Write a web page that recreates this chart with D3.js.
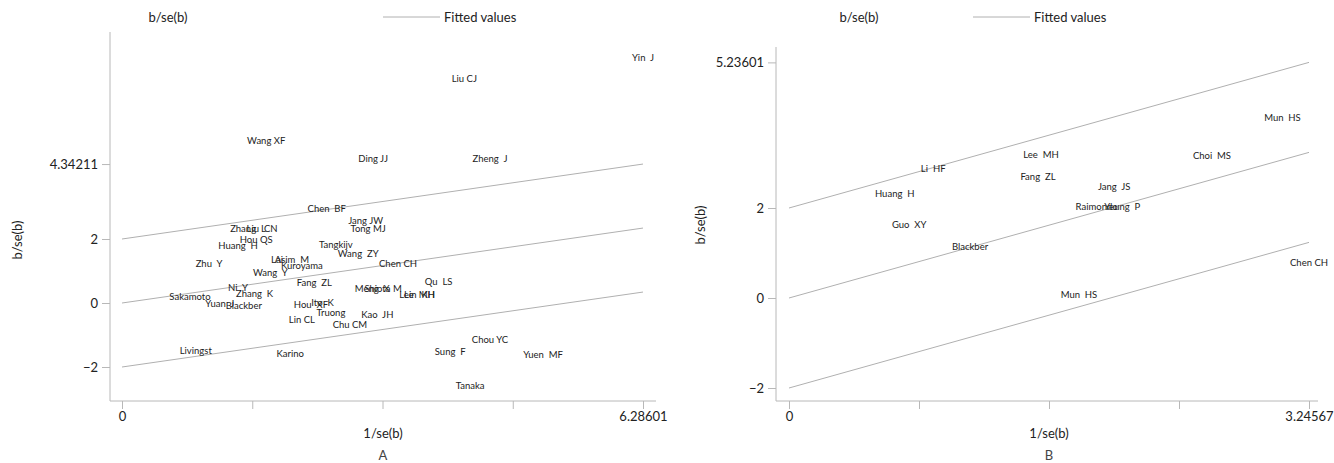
<!DOCTYPE html>
<html>
<head>
<meta charset="utf-8">
<script src="https://cdn.jsdelivr.net/npm/d3@7"></script>
<style>
  html, body { margin: 0; padding: 0; background: #fff; }
  svg { display: block; font-family: Lato, "Open Sans", sans-serif; }
  text { white-space: pre; }
</style>
</head>
<body>
<svg id="chart" width="1334" height="463"></svg>
<script>
// ---- Panel A: study labels, precision (1/se) and standardized effect (b/se) ----
const namesA = ["Yin  J", "Liu CJ", "Wang XF", "Ding JJ", "Zheng  J", "Chen  BF", "Jang JW", "Tong MJ",
  "Zhang  L", "Liu  CN", "Hou QS", "Huang  H", "Tangkijv", "Wang  ZY", "Zhu  Y", "Lai", "Asim  M",
  "Kuroyama", "Wang  Y", "Chen CH", "Fang  ZL", "Ni  Y", "Zhang  K", "Qu  LS", "Meng  X", "Shiota M",
  "Lee  MH", "Lin  KH", "Sakamoto", "Yuan  J", "Blackber", "Hou  XF", "Ito  K", "Truong", "Lin CL",
  "Kao  JH", "Chu CM", "Chou YC", "Livingst", "Karino", "Sung  F", "Yuen  MF", "Tanaka"];
const precisionA = [6.28601, 4.13, 1.74, 3.03, 4.44, 2.47, 2.94, 2.97,
  1.52, 1.69, 1.62, 1.40, 2.58, 2.85, 1.05, 1.87, 2.05,
  2.17, 1.79, 3.33, 2.32, 1.40, 1.60, 3.82, 3.02, 3.15,
  3.56, 3.59, 0.82, 1.18, 1.47, 2.28, 2.42, 2.52, 2.17,
  3.08, 2.75, 4.44, 0.89, 2.03, 3.96, 5.08, 4.20];
const zA = [7.66, 7.00, 5.06, 4.50, 4.50, 2.94, 2.56, 2.31,
  2.31, 2.31, 1.97, 1.78, 1.81, 1.53, 1.22, 1.34, 1.34,
  1.16, 0.94, 1.22, 0.63, 0.47, 0.28, 0.66, 0.44, 0.44,
  0.25, 0.25, 0.19, -0.03, -0.09, -0.06, 0.00, -0.31, -0.53,
  -0.38, -0.69, -1.16, -1.50, -1.59, -1.53, -1.63, -2.59];
const slopeA = 0.37259;              // fitted slope through the origin
const yTicksA = [-2, 0, 2, 4.34211];
const xMaxA = 6.28601;

// ---- Panel B ----
const namesB = ["Mun  HS", "Lee  MH", "Choi  MS", "Li  HF", "Fang  ZL", "Jang  JS", "Huang  H",
  "Raimondo", "Yeung  P", "Guo  XY", "Blackber", "Chen CH", "Mun  HS"];
const precisionB = [3.08, 1.573, 2.64, 0.90, 1.554, 2.03, 0.66, 1.92, 2.08, 0.75, 1.13, 3.24567, 1.81];
const zB = [4.00, 3.18, 3.16, 2.87, 2.69, 2.47, 2.31, 2.02, 2.02, 1.64, 1.13, 0.78, 0.07];
const slopeB = 0.99702;
const yTicksB = [-2, 0, 2, 5.23601];
const xMaxB = 3.24567;

// Galbraith band offsets (±2 around the fitted line)
const bandOffsets = [-2, 0, 2];

const svg = d3.select("#chart");
const fmtTick = v => (v < 0 ? "\u2212" + Math.abs(v) : String(v));

function drawPanel(cfg) {
  const g = svg.append("g");
  const x = d3.scaleLinear().domain([0, cfg.xMax]).range(cfg.xRange);
  const y = d3.scaleLinear().domain([0, 2]).range(cfg.yRange);

  // axis frame lines
  g.append("line").attr("x1", cfg.frame.left).attr("x2", cfg.frame.left)
    .attr("y1", cfg.frame.top).attr("y2", cfg.frame.bottom)
    .attr("stroke", "#b8b8b8").attr("stroke-width", 1);
  g.append("line").attr("x1", cfg.frame.left).attr("x2", cfg.frame.right)
    .attr("y1", cfg.frame.bottom).attr("y2", cfg.frame.bottom)
    .attr("stroke", "#b8b8b8").attr("stroke-width", 1);

  // y axis
  const yAxis = d3.axisLeft(y).tickValues(cfg.yTicks).tickSize(8).tickPadding(4)
    .tickFormat(fmtTick);
  const ya = g.append("g").attr("transform", `translate(${cfg.frame.left},0)`).call(yAxis);
  ya.select(".domain").remove();
  ya.selectAll(".tick line").attr("stroke", "#b8b8b8");
  ya.selectAll(".tick text").attr("fill", "#222").style("font-size", "13px")
    .style("font-family", "Lato, sans-serif");

  // x axis: five ticks, labels only at the ends
  const xt = d3.range(5).map(i => cfg.xMax * i / 4);
  const xAxis = d3.axisBottom(x).tickValues(xt).tickSize(8).tickPadding(3)
    .tickFormat((d, i) => (i === 0 ? "0" : i === 4 ? String(cfg.xMax) : ""));
  const xa = g.append("g").attr("transform", `translate(0,${cfg.frame.bottom})`).call(xAxis);
  xa.select(".domain").remove();
  xa.selectAll(".tick line").attr("stroke", "#b8b8b8");
  xa.selectAll(".tick text").attr("fill", "#222").style("font-size", "13px")
    .style("font-family", "Lato, sans-serif");

  // fitted line and ±2 band
  bandOffsets.forEach(off => {
    g.append("line")
      .attr("x1", x(0)).attr("y1", y(off))
      .attr("x2", x(cfg.xMax)).attr("y2", y(off + cfg.slope * cfg.xMax))
      .attr("stroke", "#b0b0b0").attr("stroke-width", 1);
  });

  // study labels at each point
  g.append("g").selectAll("text").data(cfg.names).join("text")
    .attr("x", (d, i) => x(cfg.px[i]))
    .attr("y", (d, i) => y(cfg.pz[i]))
    .attr("text-anchor", "middle").attr("dy", "0.35em")
    .attr("fill", "#222").style("font-size", "9.5px")
    .text(d => d);

  // axis titles
  g.append("text").attr("x", cfg.xTitle[0]).attr("y", cfg.xTitle[1])
    .attr("text-anchor", "middle").attr("dy", "0.35em").attr("fill", "#222")
    .style("font-size", "13px").text("1/se(b)");
  g.append("text").attr("transform", `translate(${cfg.yTitle[0]},${cfg.yTitle[1]}) rotate(-90)`)
    .attr("text-anchor", "middle").attr("dy", "0.35em").attr("fill", "#222")
    .style("font-size", "13px").text("b/se(b)");
  g.append("text").attr("x", cfg.xTitle[0]).attr("y", cfg.letterY)
    .attr("text-anchor", "middle").attr("dy", "0.35em").attr("fill", "#444")
    .style("font-size", "13px").text(cfg.letter);

  // legend
  g.append("text").attr("x", cfg.legend.series).attr("y", 17)
    .attr("text-anchor", "middle").attr("dy", "0.35em").attr("fill", "#222")
    .style("font-size", "13px").text("b/se(b)");
  g.append("line").attr("x1", cfg.legend.line[0]).attr("x2", cfg.legend.line[1])
    .attr("y1", 17).attr("y2", 17).attr("stroke", "#b0b0b0");
  g.append("text").attr("x", cfg.legend.line[1] + 4).attr("y", 17)
    .attr("dy", "0.35em").attr("fill", "#222")
    .style("font-size", "13px").text("Fitted values");
}

drawPanel({
  names: namesA, px: precisionA, pz: zA, slope: slopeA, yTicks: yTicksA, xMax: xMaxA,
  xRange: [122, 643], yRange: [303, 239],
  frame: { left: 110, right: 656, top: 32, bottom: 401 },
  xTitle: [383, 433], yTitle: [17, 240], letter: "A", letterY: 455,
  legend: { series: 168, line: [383, 440] }
});

drawPanel({
  names: namesB, px: precisionB, pz: zB, slope: slopeB, yTicks: yTicksB, xMax: xMaxB,
  xRange: [789, 1309], yRange: [298, 208],
  frame: { left: 776, right: 1318, top: 47, bottom: 401 },
  xTitle: [1049, 433], yTitle: [700, 225], letter: "B", letterY: 455,
  legend: { series: 859, line: [973, 1030] }
});
</script>
</body>
</html>
